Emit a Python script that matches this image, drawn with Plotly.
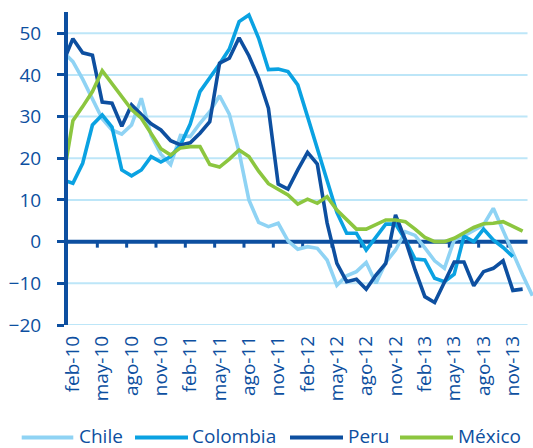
import plotly.graph_objects as go

# ---------------- data ----------------
months_es = ["ene", "feb", "mar", "abr", "may", "jun", "jul", "ago", "sep", "oct", "nov", "dic"]
categories = [f"{m}-{y}" for y in range(10, 14) for m in months_es] + ["ene-14"]  # ene-10 .. ene-14

tick_labels = ["feb-10", "may-10", "ago-10", "nov-10", "feb-11", "may-11", "ago-11", "nov-11",
               "feb-12", "may-12", "ago-12", "nov-12", "feb-13", "may-13", "ago-13", "nov-13"]

chile = [45.5, 43.2, 39.0, 34.0, 29.5, 26.8, 25.8, 28.0, 34.4, 25.5, 21.0, 18.5,
         25.5, 25.2, 28.4, 31.2, 35.0, 30.6, 21.5, 10.0, 4.6, 3.6, 4.4, 0.2,
         -1.8, -1.2, -1.6, -4.4, -10.5, -8.2, -7.2, -5.0, -10.0, -5.0, -2.0, 2.4,
         1.5, -1.5, -4.6, -6.4, 0.4, 1.4, 2.8, 4.0, 8.0, 2.6, -2.8, -8.0, -13.0]

colombia = [14.8, 14.0, 18.8, 28.0, 30.4, 27.5, 17.2, 15.8, 17.2, 20.4, 19.1, 20.4,
            23.2, 28.2, 36.0, 39.2, 42.6, 46.2, 52.8, 54.4, 48.8, 41.3, 41.4, 40.8,
            37.6, 30.0, 22.5, 14.5, 7.0, 2.0, 2.0, -2.0, 1.0, 4.2, 4.2, 0.5,
            -4.2, -4.4, -8.8, -9.6, -7.8, 1.3, 0.0, 3.0, 0.4, -1.4, -3.6, None, None]

peru = [43.0, 48.7, 45.3, 44.7, 33.5, 33.2, 27.7, 32.8, 30.5, 28.3, 26.8, 24.2,
        23.2, 23.7, 26.0, 28.8, 42.8, 44.0, 48.9, 44.6, 39.2, 32.0, 13.8, 12.6,
        17.2, 21.4, 18.6, 4.5, -5.2, -9.6, -9.0, -11.4, -8.0, -5.2, 6.4, 0.4,
        -6.8, -13.2, -14.6, -9.6, -4.9, -4.9, -10.6, -7.2, -6.4, -4.6, -11.7, -11.4, None]

mexico = [15.0, 29.0, 32.4, 36.0, 41.0, 37.9, 34.8, 31.7, 29.6, 26.0, 22.3, 20.8,
          22.5, 22.8, 22.8, 18.5, 17.9, 19.8, 22.0, 20.4, 16.9, 13.9, 12.5, 11.2,
          9.0, 10.2, 9.2, 10.8, 7.6, 5.2, 3.0, 3.0, 4.2, 5.2, 5.2, 4.8,
          3.0, 1.0, 0.0, 0.0, 0.8, 2.2, 3.4, 4.3, 4.4, 4.8, 3.6, 2.5, None]

series_names = ["Chile", "Colombia", "Peru", "México"]
series_values = [chile, colombia, peru, mexico]
series_colors = ["#8fd3f4", "#0aa2e2", "#0d4fa0", "#8cc63f"]

y_ticks = [-20, -10, 0, 10, 20, 30, 40, 50]

# ---------------- style ----------------
NAVY = "#0d4fa0"
GRID = "#bde6f8"
FONT = "Open Sans"
W, H = 533, 448
ML, MR, MT, MB = 68, 0, 12, 123
PW, PH = W - ML - MR, H - MT - MB

def px_x(px):
    return (px - ML) / PW

def px_y(py):
    return (H - MB - py) / PH

fig = go.Figure()
for name, vals, col in zip(series_names, series_values, series_colors):
    fig.add_trace(go.Scatter(x=categories, y=vals, mode="lines", name=name,
                             line=dict(color=col, width=3.6), showlegend=False))

X_LEFT, X_RIGHT = 0.5, 47.5
shapes = []
for v in y_ticks:
    if v == 0:
        continue
    shapes.append(dict(type="line", xref="x", yref="y", x0=X_LEFT, x1=X_RIGHT, y0=v, y1=v,
                       line=dict(color=GRID, width=2), layer="below"))
shapes.append(dict(type="line", xref="x", yref="y", x0=X_LEFT, x1=X_RIGHT, y0=0, y1=0,
                   line=dict(color=NAVY, width=4), layer="below"))
for k in range(1, 16):
    xb = 0.5 + 3 * k
    shapes.append(dict(type="line", xref="x", yref="y", ysizemode="pixel", yanchor=0,
                       x0=xb, x1=xb, y0=0, y1=-6, line=dict(color=NAVY, width=3), layer="below"))

annotations = []
legend_items = [(21.7, 73.3, 78), (135, 188, 191), (290, 343, 347), (400, 453, 457)]
LEG_LINE_Y = 437.5
LEG_TEXT_Y = 435.5
for (x0, x1, tx), name, col in zip(legend_items, series_names, series_colors):
    shapes.append(dict(type="line", xref="paper", yref="paper", x0=px_x(x0), x1=px_x(x1),
                       y0=px_y(LEG_LINE_Y), y1=px_y(LEG_LINE_Y), line=dict(color=col, width=4)))
    annotations.append(dict(xref="paper", yref="paper", x=px_x(tx), y=px_y(LEG_TEXT_Y),
                            xanchor="left", yanchor="middle", text=name, showarrow=False,
                            borderpad=0, font=dict(family=FONT, size=19, color=NAVY)))

fig.update_layout(
    width=W, height=H,
    margin=dict(l=ML, r=MR, t=MT, b=MB, autoexpand=False),
    paper_bgcolor="white", plot_bgcolor="white",
    shapes=shapes, annotations=annotations,
    showlegend=False,
    xaxis=dict(type="category", categoryorder="array", categoryarray=categories,
               range=[X_LEFT, 48.06], showgrid=False, zeroline=False, showline=False,
               tickmode="array", tickvals=tick_labels, ticktext=tick_labels,
               tickangle=-90, ticks="", ticklabelstandoff=6,
               tickfont=dict(family=FONT, size=19, color=NAVY), fixedrange=True),
    yaxis=dict(range=[-20, 55.1], tickmode="array", tickvals=y_ticks,
               showgrid=False, zeroline=False, showline=True, linewidth=4, linecolor=NAVY,
               ticks="outside", ticklen=7, tickwidth=3, tickcolor=NAVY,
               ticklabelstandoff=12,
               tickfont=dict(family=FONT, size=19, color=NAVY), fixedrange=True),
)

fig.write_html("out.html", config={"displayModeBar": False},
               post_script="document.body.style.margin='0';document.body.style.overflow='hidden';")
